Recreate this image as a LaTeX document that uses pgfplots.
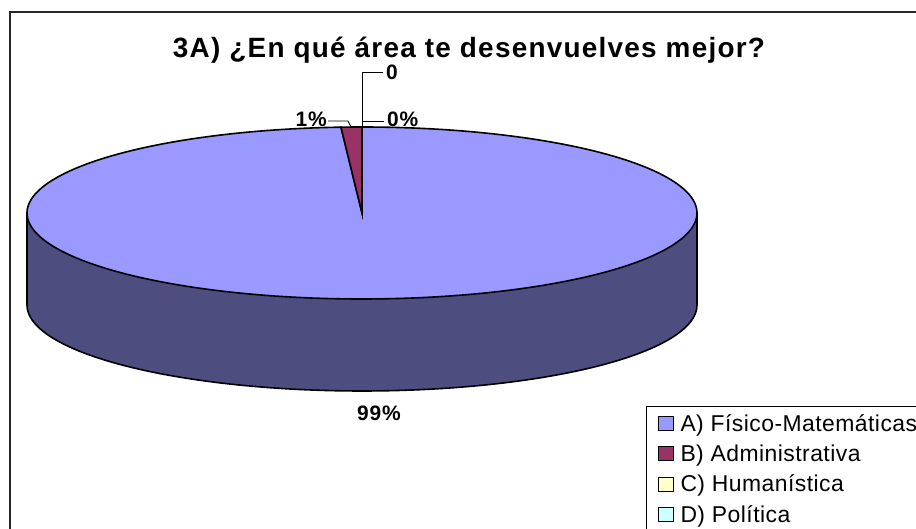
\documentclass[border=0pt]{standalone}
\usepackage{fontspec}
\setmainfont{Liberation Sans}
\usepackage{pgfplots}
\usepackage{pgfplotstable}
\pgfplotsset{compat=1.18}
\usepgfplotslibrary{fillbetween}

\definecolor{fisico}{HTML}{9999FF}
\definecolor{fisicoside}{HTML}{4D4D80}
\definecolor{admin}{HTML}{993366}
\definecolor{human}{HTML}{FFFFCC}
\definecolor{polit}{HTML}{CCFFFF}

% answers to question 3A (percent)
\pgfplotstableread{
area value
A 99
B 1
C 0
D 0
}\pietable

% pie geometry, in pixels of the picture
\def\cx{362}\def\cy{213}\def\rx{335}\def\ry{86}\def\dep{92}

\tikzset{lab/.style={font=\fontsize{21}{24}\selectfont\bfseries\addfontfeatures{LetterSpace=4}, inner sep=0pt}}

\begin{document}
\begin{tikzpicture}
\pgfplotstablegetelem{0}{value}\of\pietable \pgfmathsetmacro\va{\pgfplotsretval}
\pgfplotstablegetelem{1}{value}\of\pietable \pgfmathsetmacro\vb{\pgfplotsretval}
\pgfplotstablegetelem{2}{value}\of\pietable \pgfmathsetmacro\vc{\pgfplotsretval}
\pgfplotstablegetelem{3}{value}\of\pietable \pgfmathsetmacro\vd{\pgfplotsretval}
\pgfmathsetmacro\tot{\va+\vb+\vc+\vd}
% slices run clockwise from 12 o'clock
\pgfmathsetmacro\aStart{90-360*(\va/\tot)}
\pgfmathsetmacro\bStart{\aStart-360*(\vb/\tot)}

\begin{axis}[
    width=916bp, height=529bp, scale only axis,
    at={(0,0)}, anchor=south west,
    xmin=0, xmax=916, ymin=0, ymax=529,
    y dir=reverse,
    hide axis, clip=false,
    legend style={
      at={(axis cs:646,406)}, anchor=north west,
      draw=black, line width=1bp,
      font=\fontsize{23}{26}\selectfont\addfontfeatures{LetterSpace=2},
      row sep=8bp, cells={anchor=west},
      inner xsep=11bp, inner ysep=6bp,
      /tikz/every odd column/.style={column sep=5bp}
    },
    legend image code/.code={
      \draw[#1, line width=1bp] (0bp,-7bp) rectangle (15bp,7bp);
    },
  ]
  \coordinate (SW) at (axis cs:0,529);
  \coordinate (NE) at (axis cs:916,0);

  % chart area frame
  \draw[line width=2bp, black!85] (axis cs:10,560) -- (axis cs:10,12) -- (axis cs:960,12);

  % front side of the pie (all of it belongs to slice A)
  \addplot[name path=top, draw=none, domain=180:360, samples=120, forget plot]
    ({\cx+\rx*cos(x)},{\cy-\ry*sin(x)});
  \addplot[name path=bot, draw=none, domain=180:360, samples=120, forget plot]
    ({\cx+\rx*cos(x)},{\cy+\dep-\ry*sin(x)});
  \addplot[fisicoside, forget plot] fill between[of=top and bot];
  \addplot[black, line width=1.6bp, domain=180:360, samples=120, forget plot]
    ({\cx+\rx*cos(x)},{\cy+\dep-\ry*sin(x)});
  \addplot[black, line width=1.6bp, forget plot] coordinates {(27,213) (27,305)};
  \addplot[black, line width=1.6bp, forget plot] coordinates {(697,213) (697,305)};

  % top face
  \addplot[fill=fisico, draw=black, line width=1.6bp, domain=\aStart:90, samples=250, forget plot]
    ({\cx+\rx*cos(x)},{\cy-\ry*sin(x)}) -- (axis cs:\cx,\cy) -- cycle;
  \addplot[fill=admin, draw=black, line width=1.6bp, domain=\bStart:\aStart, samples=8, forget plot]
    ({\cx+\rx*cos(x)},{\cy-\ry*sin(x)}) -- (axis cs:\cx,\cy) -- cycle;

  % leader lines
  \addplot[black, line width=0.8bp, forget plot] coordinates {(328,121) (348,121) (351,127)};
  \addplot[black, line width=0.8bp, forget plot] coordinates {(362,121) (384,121)};
  \addplot[black, line width=0.8bp, forget plot] coordinates {(362,127) (362,72) (383,72)};

  % labels
  \node[lab, anchor=east] at (axis cs:327,119) {1\%};
  \node[lab, anchor=west] at (axis cs:387,119) {0\%};
  \node[lab, anchor=west] at (axis cs:386,72) {0};
  \node[lab] at (axis cs:379,413) {99\%};

  % title
  \node[font=\fontsize{28}{32}\selectfont\bfseries\addfontfeatures{LetterSpace=4.5}, anchor=base, inner sep=0pt]
    at (axis cs:469,58) {3A) ¿En qué área te desenvuelves mejor?};

  % legend
  \addlegendimage{fill=fisico, draw=black}
  \addlegendentry{A) Físico-Matemáticas}
  \addlegendimage{fill=admin, draw=black}
  \addlegendentry{B) Administrativa}
  \addlegendimage{fill=human, draw=black}
  \addlegendentry{C) Humanística}
  \addlegendimage{fill=polit, draw=black}
  \addlegendentry{D) Política}
\end{axis}
\pgfresetboundingbox
\useasboundingbox (SW) rectangle (NE);
\end{tikzpicture}
\end{document}
